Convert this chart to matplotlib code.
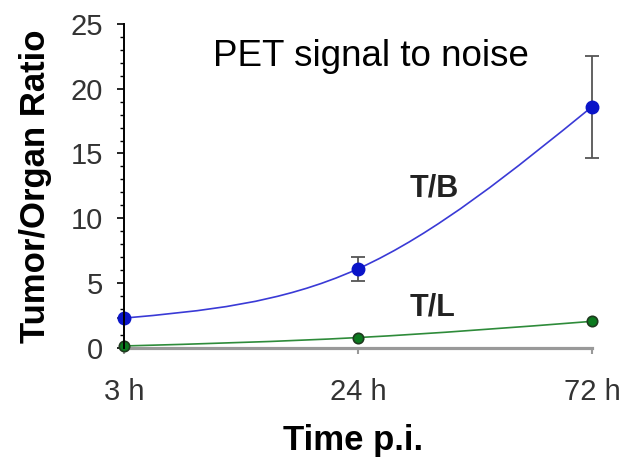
import matplotlib
matplotlib.use('Agg')
import matplotlib.pyplot as plt
import matplotlib.ticker as ticker
from matplotlib.path import Path
from matplotlib.patches import PathPatch
import numpy as np

plt.rc('font', family=['Liberation Sans', 'DejaVu Sans'])

# data
times = ['3 h', '24 h', '72 h']
tb = [2.3, 6.1, 18.6]
tb_err = [0.0, 0.9, 3.95]
tl = [0.15, 0.8, 2.05]


def smooth_path(xs, ys):
    # cubic hermite through the points (natural ends), drawn as bezier segments
    xs = np.asarray(xs, float)
    ys = np.asarray(ys, float)
    chord = np.diff(ys) / np.diff(xs)
    m = np.zeros_like(ys)
    m[1:-1] = (chord[:-1] + chord[1:]) / 2
    m[0] = (3 * chord[0] - m[1]) / 2
    m[-1] = (3 * chord[-1] - m[-2]) / 2
    verts = [(xs[0], ys[0])]
    codes = [Path.MOVETO]
    for i in range(len(xs) - 1):
        dx = xs[i + 1] - xs[i]
        verts += [(xs[i] + dx / 3, ys[i] + m[i] * dx / 3),
                  (xs[i + 1] - dx / 3, ys[i + 1] - m[i + 1] * dx / 3),
                  (xs[i + 1], ys[i + 1])]
        codes += [Path.CURVE4] * 3
    return Path(verts, codes)


fig = plt.figure(figsize=(6.29, 4.59), dpi=100)
ax = fig.add_axes([0.197, 0.242, 0.744, 0.706])

x = np.arange(len(times))

# lines
ax.add_patch(PathPatch(smooth_path(x, tb), fill=False, edgecolor='#3a3ad6', lw=1.2, zorder=2))
ax.add_patch(PathPatch(smooth_path(x, tl), fill=False, edgecolor='#2e8b3a', lw=1.2, zorder=2))

# error bars and markers
ax.errorbar(x, tb, yerr=tb_err, fmt='none', ecolor='#555555', elinewidth=1.3,
            capsize=5, capthick=1.3, zorder=3, clip_on=False)
ax.plot(x, tb, 'o', color='#0a14c8', markeredgecolor='#0a14c8', ms=9, zorder=4, clip_on=False)
ax.plot(x, tl, 'o', color='#0b7a1e', markeredgecolor='#1f3a1f', mew=1.2, ms=7.5, zorder=4,
        clip_on=False)

ax.set_xlim(0, 2)
ax.set_ylim(0, 25)

ax.spines[['right', 'top']].set_visible(False)
ax.spines['left'].set_linewidth(1.4)
ax.spines['left'].set_color('black')
ax.spines['bottom'].set_linewidth(2.3)
ax.spines['bottom'].set_color('#999999')
ax.spines['left'].set_zorder(5)

ax.set_xticks(x)
ax.set_xticklabels(times)
ax.yaxis.set_major_locator(ticker.MultipleLocator(5))
ax.yaxis.set_minor_locator(ticker.MultipleLocator(1))
ax.tick_params(axis='y', which='major', length=5, width=1.2, labelsize=21, pad=10,
               labelcolor='#333333')
ax.tick_params(axis='y', which='minor', length=3, width=1.0)
ax.tick_params(axis='x', which='major', length=4, width=1.5, color='#999999',
               labelsize=21, pad=18, labelcolor='#333333')

ax.set_ylabel('Tumor/Organ Ratio', fontsize=25, fontweight='bold')
ax.yaxis.set_label_coords(-0.154, 0.5)
ax.set_xlabel('Time p.i.', fontsize=25, fontweight='bold')
ax.xaxis.set_label_coords(0.49, -0.235)

ax.text(0.528, 22.5, 'PET signal to noise', transform=ax.get_yaxis_transform(),
        ha='center', va='center', fontsize=26.5)
ax.text(1.325, 12.3, 'T/B', ha='center', va='center', fontsize=22, fontweight='bold',
        color='#222222')
ax.text(1.32, 3.1, 'T/L', ha='center', va='center', fontsize=22, fontweight='bold',
        color='#222222')

fig.savefig('out.png', dpi=100)
